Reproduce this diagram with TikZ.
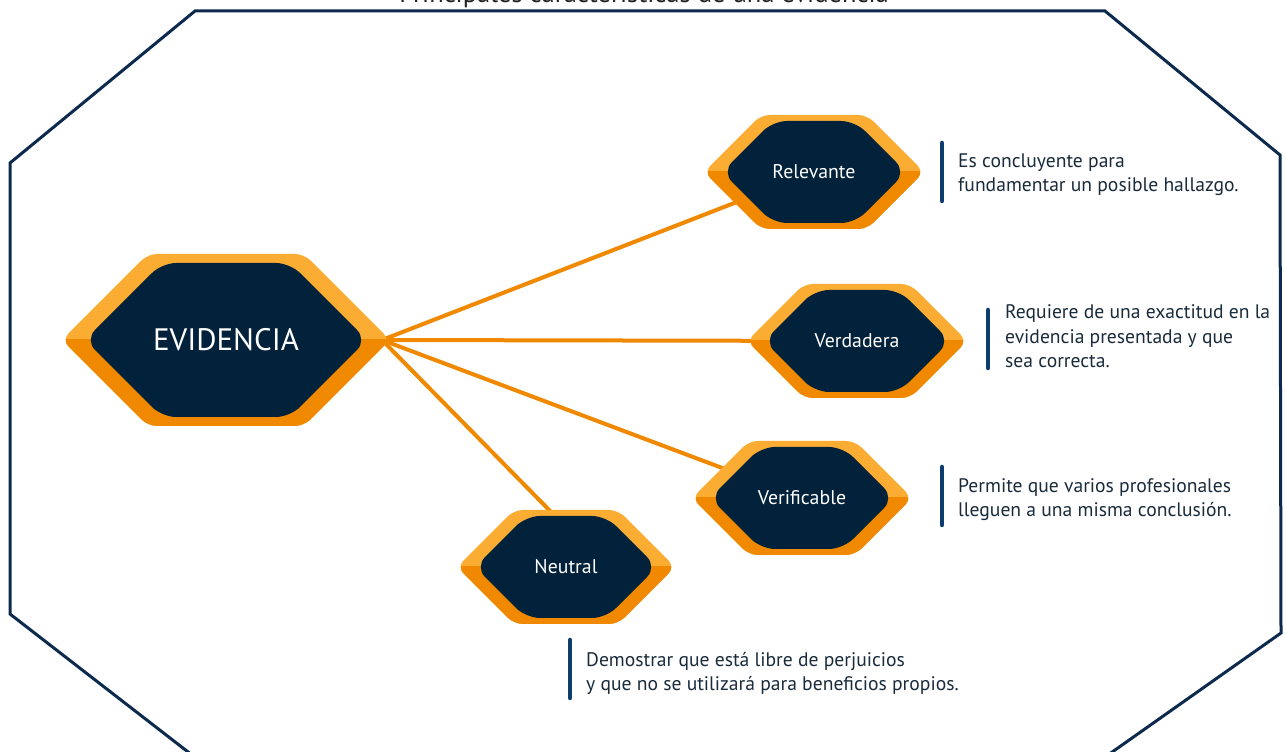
\documentclass[tikz,border=0pt]{standalone}
\usepackage{fontspec}
\setmainfont{PT Sans}
\usetikzlibrary{calc}

\definecolor{orlight}{HTML}{FBAD33}
\definecolor{ordark}{HTML}{F08800}
\definecolor{navy}{HTML}{02213A}
\definecolor{framecol}{HTML}{0C2A4E}
\definecolor{barblue}{HTML}{0D3D6E}
\definecolor{desccol}{HTML}{1A2B3C}
\definecolor{titlecol}{HTML}{222222}

\pgfdeclarelayer{paper}
\pgfdeclarelayer{background}
\pgfsetlayers{paper,background,main}

\tikzset{
  link/.style={draw=ordark, line width=4pt},
  bar/.style={draw=barblue, line width=4.5pt, line cap=round},
  desc/.style={text=desccol, align=left, inner sep=0pt,
               font=\fontsize{19.6}{24.5}\selectfont},
  smalltxt/.style={text=white, inner sep=0pt, font=\fontsize{19.8}{22}\selectfont},
  bigtxt/.style={text=white, inner sep=0pt, font=\fontsize{31}{34}\selectfont},
}

% two-tone orange hexagon with a navy core and a named label node
% #1 name, #2 cx, #3 cy, #4 outer half-width, #5 outer half-height,
% #6 inner half-width, #7 inner half-height, #8 label style, #9 label
\newcommand\hexa[9]{%
  \fill[orlight, rounded corners=9]
    (#2-#4,#3) -- (#2-#4+#5,#3+#5) -- (#2+#4-#5,#3+#5) -- (#2+#4,#3)
    -- (#2+#4-#5,#3-#5) -- (#2-#4+#5,#3-#5) -- cycle;
  \begin{scope}
    \clip (#2-#4-3,#3) rectangle (#2+#4+3,#3-#5-3);
    \fill[ordark, rounded corners=9]
      (#2-#4,#3) -- (#2-#4+#5,#3+#5) -- (#2+#4-#5,#3+#5) -- (#2+#4,#3)
      -- (#2+#4-#5,#3-#5) -- (#2-#4+#5,#3-#5) -- cycle;
  \end{scope}
  \fill[navy, rounded corners=14]
    (#2-#6,#3) -- (#2-#6+#7,#3+#7) -- (#2+#6-#7,#3+#7) -- (#2+#6,#3)
    -- (#2+#6-#7,#3-#7) -- (#2-#6+#7,#3-#7) -- cycle;
  \node[#8] (#1) at (#2,#3) {#9};
}

\begin{document}
\begin{tikzpicture}[x=1pt, y=1pt]
  \clip (0,0) rectangle (1285,752);
  \begin{pgfonlayer}{paper}
    \fill[white] (0,0) rectangle (1285,752);
  \end{pgfonlayer}

  % title, mostly above the page edge
  \node[text=titlecol, anchor=base, inner sep=0pt,
        font=\fontsize{26.5}{30}\selectfont] (title) at (644,749.5)
        {Principales características de una evidencia};

  % octagonal frame
  \draw[framecol, line width=3pt, line join=miter]
    (195,741) -- (1105,741) -- (1280,597) -- (1281,119) -- (1098,-10)
    -- (201,-10) -- (10,138) -- (10,589) -- cycle;

  % hexagons
  \hexa{ev}{226}{412}{164}{86}{141}{77}{bigtxt}{EVIDENCIA}
  \hexa{rel}{814}{580}{110}{57}{92}{51}{smalltxt}{Relevante}
  \hexa{ver}{857}{411}{110}{57}{93}{51}{smalltxt}{Verdadera}
  \hexa{vfc}{802}{254}{110}{57}{92}{51}{smalltxt}{Verificable}
  \hexa{neu}{566}{185}{109}{57}{91}{51}{smalltxt}{Neutral}

  % connectors behind the hexagons
  \coordinate (ev-tip) at ($(ev)+(156,0)$);
  \coordinate (neu-in) at ($(neu)+(-10,50)$);
  \begin{pgfonlayer}{background}
    \draw[link] (ev-tip) -- (rel.center);
    \draw[link] (ev-tip) -- (ver.center);
    \draw[link] (ev-tip) -- (vfc.center);
    \draw[link] (ev-tip) -- (neu-in);
  \end{pgfonlayer}

  % descriptions (anchored at the baseline of their last line)
  \node[desc, anchor=base west] (d-rel) at (958,560)
    {Es concluyente para\\fundamentar un posible hallazgo.};
  \draw[bar] (942,609) -- (942,551);

  \node[desc, anchor=base west] (d-ver) at (1005,384)
    {Requiere de una exactitud en la\\evidencia presentada y que\\sea correcta.};
  \draw[bar] (988,442) -- (988,384);

  \node[desc, anchor=base west] (d-vfc) at (958,235)
    {Permite que varios profesionales\\lleguen a una misma conclusión.};
  \draw[bar] (942,285) -- (942,227);

  \node[desc, anchor=base west] (d-neu) at (586,61)
    {Demostrar que está libre de perjuicios\\y que no se utilizará para beneficios propios.};
  \draw[bar] (570,112) -- (570,54);
\end{tikzpicture}
\end{document}
